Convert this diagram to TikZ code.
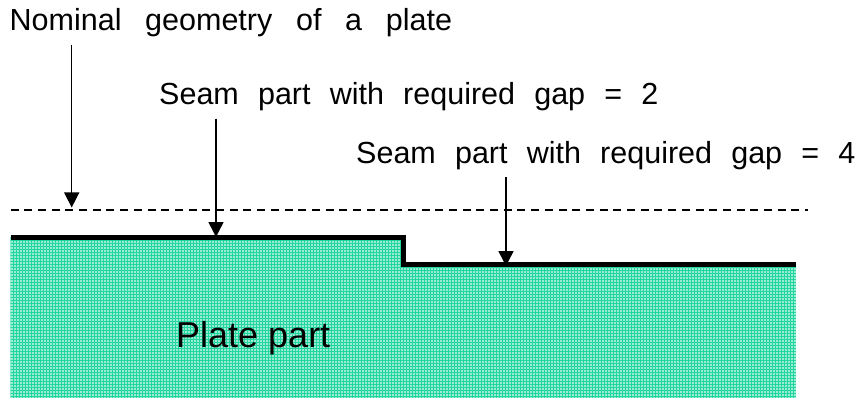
\documentclass[tikz,border=0pt]{standalone}
\usepackage{fontspec}
\setmainfont{Liberation Sans}
\usetikzlibrary{arrows.meta}

\definecolor{PlateGreen}{HTML}{9BEBD2}
\definecolor{PlateGrid}{HTML}{22D6A0}

\tikzset{
  seamlabel/.style={anchor=base west, inner sep=0pt, font=\fontsize{30.5}{36}\selectfont,
    execute at begin node={\spaceskip=19.2pt\relax}},
  nominallabel/.style={seamlabel, execute at begin node={\spaceskip=23.7pt\relax}},
  leader/.style={-{Triangle[width=15pt,length=15pt]}, line width=1.5pt, shorten <=7pt}
}

\begin{document}
\begin{tikzpicture}[x=1pt, y=-1pt]
  \useasboundingbox (0,0) rectangle (859,398);

  % Plate body
  \fill[PlateGreen] (10.5,237) -- (403.5,237) -- (403.5,264) -- (796,264) -- (796,398) -- (10.5,398) -- cycle;
  \begin{scope}
    \clip (10.5,237) -- (403.5,237) -- (403.5,264) -- (796,264) -- (796,398) -- (10.5,398) -- cycle;
    \foreach \gx in {10.5,13.5,...,796} \draw[PlateGrid, line width=1pt] (\gx,230) -- (\gx,398);
    \foreach \gy in {237.5,240.5,...,398} \draw[PlateGrid, line width=1pt] (10,\gy) -- (796,\gy);
  \end{scope}

  % Nominal line and seam
  \draw[line width=1.7pt, dash pattern=on 8pt off 5.7pt] (10.5,210) -- (808,210);
  \draw[line width=5pt] (10.5,237.5) -- (403.5,237.5) -- (403.5,264.3) -- (796,264.3);

  % Labels
  \node[nominallabel] (nominal) at (9.5,31) {Nominal geometry of a plate};
  \node[seamlabel] (seamtwo) at (159,105) {Seam part with required gap = 2};
  \node[seamlabel] (seamfour) at (356,163.5) {Seam part with required gap = 4};
  \node[anchor=base west, inner sep=0pt, font=\fontsize{36}{42}\selectfont] (plate) at (176,347) {Plate part};

  % Arrow tips
  \coordinate (tipnominal) at (71.7,207.5);
  \coordinate (tiptwo) at (216,237);
  \coordinate (tipfour) at (506,266);

  \draw[leader] (nominal.south -| tipnominal) -- (tipnominal);
  \draw[leader] (seamtwo.south -| tiptwo) -- (tiptwo);
  \draw[leader] (seamfour.south -| tipfour) -- (tipfour);
\end{tikzpicture}
\end{document}
